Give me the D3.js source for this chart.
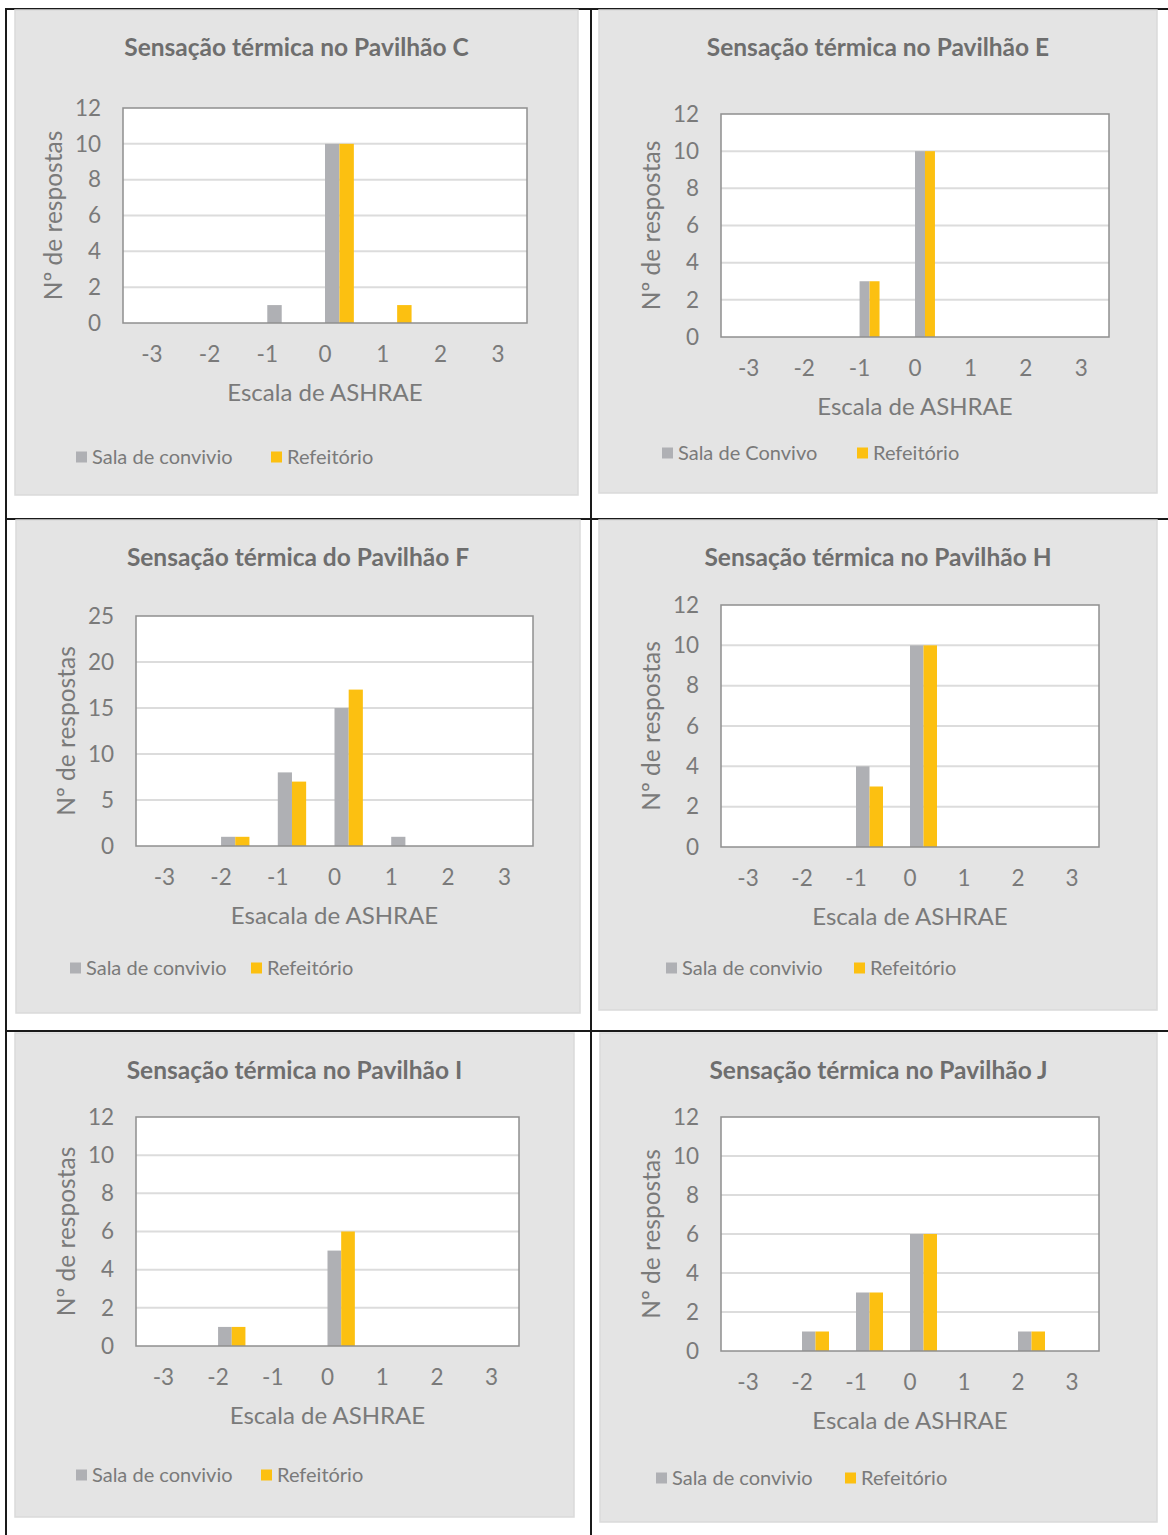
<!DOCTYPE html>
<html>
<head>
<meta charset="utf-8">
<script src="https://cdn.jsdelivr.net/npm/d3@7"></script>
<style>
  html, body { margin: 0; padding: 0; background: #ffffff; }
  svg { display: block; }
  text { font-family: Lato, "Open Sans", sans-serif; fill: #7a7a7a; }
</style>
</head>
<body>
<svg id="page" width="1168" height="1535"></svg>
<script>
// ASHRAE thermal sensation scale (x categories)
const categories = ["-3", "-2", "-1", "0", "1", "2", "3"];

// Number of answers per scale point, for each pavilion
const salaC = [0, 0, 1, 10, 0, 0, 0];
const refeitorioC = [0, 0, 0, 10, 1, 0, 0];

const salaE = [0, 0, 3, 10, 0, 0, 0];
const refeitorioE = [0, 0, 3, 10, 0, 0, 0];

const salaF = [0, 1, 8, 15, 1, 0, 0];
const refeitorioF = [0, 1, 7, 17, 0, 0, 0];

const salaH = [0, 0, 4, 10, 0, 0, 0];
const refeitorioH = [0, 0, 3, 10, 0, 0, 0];

const salaI = [0, 1, 0, 5, 0, 0, 0];
const refeitorioI = [0, 1, 0, 6, 0, 0, 0];

const salaJ = [0, 1, 3, 6, 0, 1, 0];
const refeitorioJ = [0, 1, 3, 6, 0, 1, 0];

// Titles and labels
const chartTitles = [
  "Sensação térmica no Pavilhão C",
  "Sensação térmica no Pavilhão E",
  "Sensação térmica do Pavilhão F",
  "Sensação térmica no Pavilhão H",
  "Sensação térmica no Pavilhão I",
  "Sensação térmica no Pavilhão J"
];
const xTitles = [
  "Escala de ASHRAE", "Escala de ASHRAE", "Esacala de ASHRAE",
  "Escala de ASHRAE", "Escala de ASHRAE", "Escala de ASHRAE"
];
const yTitle = "Nº de respostas";
const salaNames = [
  "Sala de convivio", "Sala de Convivo", "Sala de convivio",
  "Sala de convivio", "Sala de convivio", "Sala de convivio"
];
const refeitorioName = "Refeitório";

// Value axis ranges
const yMaxes = [12, 12, 25, 12, 12, 12];
const ySteps = [2, 2, 5, 2, 2, 2];

const salaSeries = [salaC, salaE, salaF, salaH, salaI, salaJ];
const refeitorioSeries = [refeitorioC, refeitorioE, refeitorioF, refeitorioH, refeitorioI, refeitorioJ];

// Page layout: panel boxes, plot boxes, legend anchors
const layout = [
  { panel: [15, 10, 578, 495],  plot: [123, 108, 527, 323],  legend: [76, 457, 271],  barFrac: 0.25 },
  { panel: [599, 10, 1157, 493], plot: [721, 114, 1109, 337], legend: [662, 453, 857], barFrac: 0.18 },
  { panel: [16, 520, 580, 1013], plot: [136, 616, 533, 846],  legend: [70, 968, 251],  barFrac: 0.25 },
  { panel: [599, 520, 1157, 1010], plot: [721, 605, 1099, 847], legend: [666, 968, 854], barFrac: 0.25 },
  { panel: [15, 1033, 574, 1517], plot: [136, 1117, 519, 1346], legend: [76, 1475, 261], barFrac: 0.25 },
  { panel: [600, 1033, 1157, 1522], plot: [721, 1117, 1099, 1351], legend: [656, 1478, 845], barFrac: 0.25 }
];

const colors = { sala: "#afb0b4", refeitorio: "#fcc011" };

const svg = d3.select("#page");

// Table grid lines behind the charts
const grid = svg.append("g").attr("stroke", "#1a1a1a").attr("stroke-width", 2);
grid.append("line").attr("x1", 6).attr("x2", 1168).attr("y1", 9).attr("y2", 9);
grid.append("line").attr("x1", 6).attr("x2", 1168).attr("y1", 519).attr("y2", 519);
grid.append("line").attr("x1", 6).attr("x2", 1168).attr("y1", 1031).attr("y2", 1031);
grid.append("line").attr("x1", 6).attr("x2", 6).attr("y1", 8).attr("y2", 1535);
grid.append("line").attr("x1", 591).attr("x2", 591).attr("y1", 8).attr("y2", 1535);

function drawChart(i) {
  const L = layout[i];
  const [px0, py0, px1, py1] = L.panel;
  const [x0, y0, x1, y1] = L.plot;
  const g = svg.append("g");

  // Chart area
  g.append("rect")
    .attr("x", px0).attr("y", py0)
    .attr("width", px1 - px0).attr("height", py1 - py0)
    .attr("fill", "#e4e4e4").attr("stroke", "#dadada").attr("stroke-width", 1.5);

  g.append("text")
    .attr("x", (px0 + px1) / 2)
    .attr("y", py0 + 37)
    .attr("dy", "0.35em")
    .attr("text-anchor", "middle")
    .attr("font-size", 24.5).attr("font-weight", 700)
    .style("fill", "#6e6e6e")
    .text(chartTitles[i]);

  const x = d3.scaleBand().domain(categories).range([x0, x1]).padding(0);
  const y = d3.scaleLinear().domain([0, yMaxes[i]]).range([y1, y0]);
  const ticks = d3.range(0, yMaxes[i] + 0.001, ySteps[i]);

  // Plot background
  g.append("rect")
    .attr("x", x0).attr("y", y0).attr("width", x1 - x0).attr("height", y1 - y0)
    .attr("fill", "#ffffff");

  // Horizontal gridlines
  g.append("g").selectAll("line").data(ticks.filter(t => t > 0 && t < yMaxes[i])).join("line")
    .attr("x1", x0).attr("x2", x1)
    .attr("y1", d => y(d)).attr("y2", d => y(d))
    .attr("stroke", "#dcdcdc").attr("stroke-width", 2);

  // Bars: each pair starts at the category centre
  const bw = x.bandwidth() * L.barFrac;
  const series = [
    { values: salaSeries[i], color: colors.sala, offset: 0 },
    { values: refeitorioSeries[i], color: colors.refeitorio, offset: 1 }
  ];
  series.forEach(s => {
    g.append("g").selectAll("rect").data(categories).join("rect")
      .attr("x", (c) => x(c) + x.bandwidth() / 2 + s.offset * bw)
      .attr("width", bw)
      .attr("y", (c, k) => y(s.values[k]))
      .attr("height", (c, k) => y(0) - y(s.values[k]))
      .attr("fill", s.color);
  });

  // Plot frame
  g.append("rect")
    .attr("x", x0).attr("y", y0).attr("width", x1 - x0).attr("height", y1 - y0)
    .attr("fill", "none").attr("stroke", "#8f8f8f").attr("stroke-width", 1.5);

  // Value axis labels
  const yAxis = d3.axisLeft(y).tickValues(ticks).tickSize(0).tickPadding(22).tickFormat(d3.format("d"));
  const ya = g.append("g").attr("transform", `translate(${x0},0)`).call(yAxis);
  ya.select(".domain").remove();
  ya.selectAll("text").attr("font-size", 22.5).attr("font-family", null).style("fill", "#7a7a7a");

  // Category axis labels
  const xAxis = d3.axisBottom(x).tickSize(0);
  const xa = g.append("g").attr("transform", `translate(0,${y1})`).call(xAxis);
  xa.select(".domain").remove();
  xa.selectAll("text").attr("y", 31).attr("dy", "0.35em")
    .attr("font-size", 22.5).attr("font-family", null).style("fill", "#7a7a7a");

  // Axis titles
  g.append("text")
    .attr("x", (x0 + x1) / 2).attr("y", y1 + 70).attr("dy", "0.35em")
    .attr("text-anchor", "middle").attr("font-size", 24)
    .text(xTitles[i]);
  g.append("text")
    .attr("transform", `translate(${x0 - 70},${(y0 + y1) / 2}) rotate(-90)`)
    .attr("dy", "0.35em")
    .attr("text-anchor", "middle").attr("font-size", 24.5)
    .text(yTitle);

  // Legend
  const [lx1, ly, lx2] = L.legend;
  const items = [
    { name: salaNames[i], color: colors.sala, lx: lx1 },
    { name: refeitorioName, color: colors.refeitorio, lx: lx2 }
  ];
  items.forEach(it => {
    g.append("rect").attr("x", it.lx).attr("y", ly - 5.5).attr("width", 11).attr("height", 11).attr("fill", it.color);
    g.append("text").attr("x", it.lx + 16).attr("y", ly).attr("dy", "0.35em")
      .attr("font-size", 20).text(it.name);
  });
}

for (let i = 0; i < 6; i++) drawChart(i);
</script>
</body>
</html>
